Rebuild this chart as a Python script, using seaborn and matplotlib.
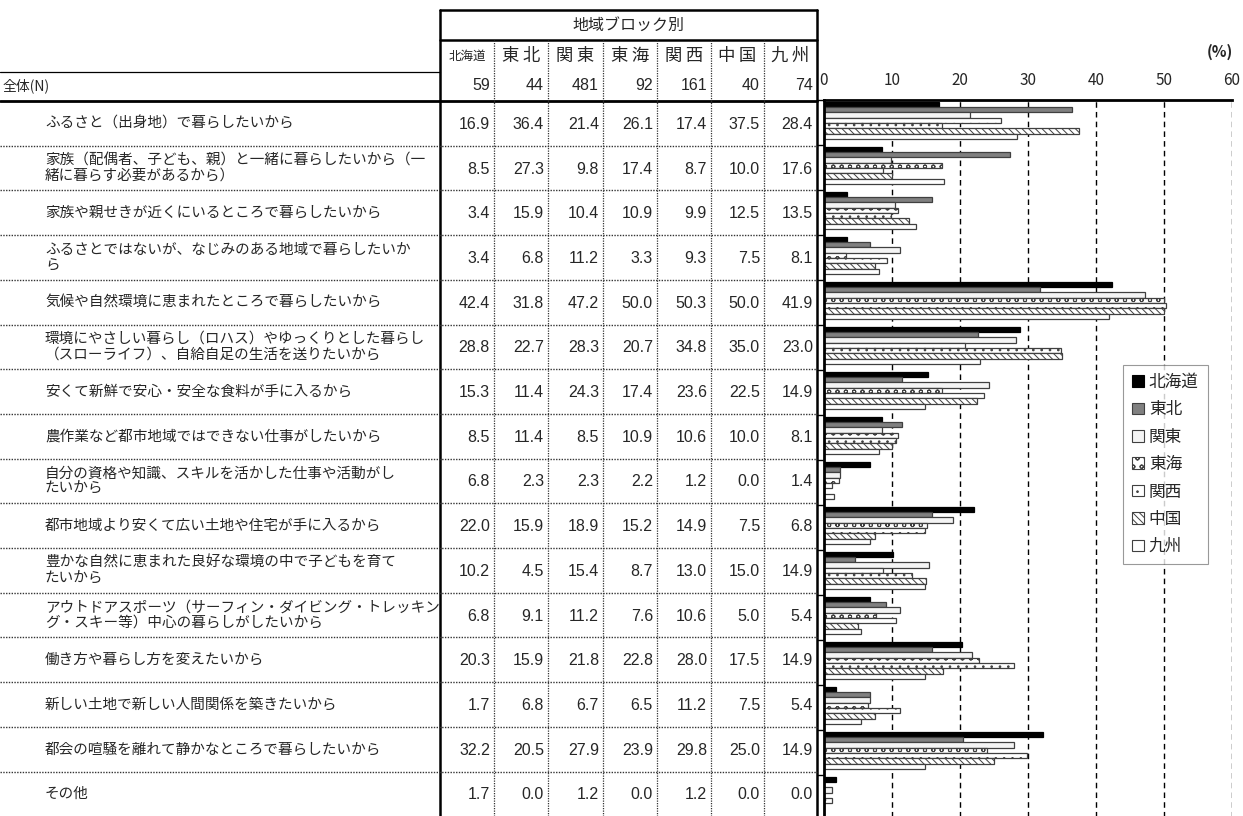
import matplotlib
matplotlib.use("Agg")
import matplotlib.pyplot as plt
import matplotlib.patches as mpatches
import seaborn as sns
import pandas as pd
import numpy as np

regions = ["北海道", "東北", "関東", "東海", "関西", "中国", "九州"]
n_counts = [59, 44, 481, 92, 161, 40, 74]
items = [
    "ふるさと（出身地）で暮らしたいから",
    "家族（配偶者、子ども、親）と一緒に暮らしたいから（一\n緒に暮らす必要があるから）",
    "家族や親せきが近くにいるところで暮らしたいから",
    "ふるさとではないが、なじみのある地域で暮らしたいか\nら",
    "気候や自然環境に恵まれたところで暮らしたいから",
    "環境にやさしい暮らし（ロハス）やゆっくりとした暮らし\n（スローライフ）、自給自足の生活を送りたいから",
    "安くて新鮮で安心・安全な食料が手に入るから",
    "農作業など都市地域ではできない仕事がしたいから",
    "自分の資格や知識、スキルを活かした仕事や活動がし\nたいから",
    "都市地域より安くて広い土地や住宅が手に入るから",
    "豊かな自然に恵まれた良好な環境の中で子どもを育て\nたいから",
    "アウトドアスポーツ（サーフィン・ダイビング・トレッキン\nグ・スキー等）中心の暮らしがしたいから",
    "働き方や暮らし方を変えたいから",
    "新しい土地で新しい人間関係を築きたいから",
    "都会の喧騒を離れて静かなところで暮らしたいから",
    "その他",
]
hokkaido = [16.9, 8.5, 3.4, 3.4, 42.4, 28.8, 15.3, 8.5, 6.8, 22.0, 10.2, 6.8, 20.3, 1.7, 32.2, 1.7]
tohoku = [36.4, 27.3, 15.9, 6.8, 31.8, 22.7, 11.4, 11.4, 2.3, 15.9, 4.5, 9.1, 15.9, 6.8, 20.5, 0.0]
kanto = [21.4, 9.8, 10.4, 11.2, 47.2, 28.3, 24.3, 8.5, 2.3, 18.9, 15.4, 11.2, 21.8, 6.7, 27.9, 1.2]
tokai = [26.1, 17.4, 10.9, 3.3, 50.0, 20.7, 17.4, 10.9, 2.2, 15.2, 8.7, 7.6, 22.8, 6.5, 23.9, 0.0]
kansai = [17.4, 8.7, 9.9, 9.3, 50.3, 34.8, 23.6, 10.6, 1.2, 14.9, 13.0, 10.6, 28.0, 11.2, 29.8, 1.2]
chugoku = [37.5, 10.0, 12.5, 7.5, 50.0, 35.0, 22.5, 10.0, 0.0, 7.5, 15.0, 5.0, 17.5, 7.5, 25.0, 0.0]
kyushu = [28.4, 17.6, 13.5, 8.1, 41.9, 23.0, 14.9, 8.1, 1.4, 6.8, 14.9, 5.4, 14.9, 5.4, 14.9, 0.0]
series = [hokkaido, tohoku, kanto, tokai, kansai, chugoku, kyushu]
xticks = [0, 10, 20, 30, 40, 50, 60]

sns.set_style("white")
plt.rcParams["font.family"] = ["Noto Sans CJK JP", "DejaVu Sans"]
plt.rcParams["hatch.linewidth"] = 0.7
NUMFONT = ["Liberation Sans", "DejaVu Sans"]

W, H = 1243, 816
fig = plt.figure(figsize=(W / 100, H / 100), dpi=100)

# ---------- table (pixel coordinates) ----------
tab = fig.add_axes([0, 0, 1, 1])
tab.set_xlim(0, W)
tab.set_ylim(H, 0)
tab.axis("off")

col_edges = [440, 494, 548, 603, 657, 711, 764, 817]
row_top = 101
row_h = 44.7

tab.plot([440, 817], [10, 10], color="black", lw=1.8)
tab.plot([440, 817], [40, 40], color="black", lw=1.8)
tab.plot([0, 440], [72, 72], color="black", lw=0.9)
tab.plot([0, 817], [row_top, row_top], color="black", lw=2.0)
tab.plot([440, 440], [10, H], color="black", lw=1.8)
tab.plot([817, 817], [10, H], color="black", lw=1.8)
for x in col_edges[1:-1]:
    tab.plot([x, x], [40, H], color="#333333", lw=0.9, ls=(0, (1, 1)))
for i in range(1, len(items)):
    y = row_top + row_h * i
    tab.plot([0, 817], [y, y], color="#333333", lw=1.0, ls=(0, (1, 1)))

tab.text(628, 25, "地域ブロック別", ha="center", va="center", fontsize=11.5)
for j, r in enumerate(regions):
    cx = (col_edges[j] + col_edges[j + 1]) / 2
    if len(r) == 3:
        tab.text(cx, 56, r, ha="center", va="center", fontsize=9)
    else:
        tab.text(cx, 56, r[0] + "\u2009" + r[1], ha="center", va="center", fontsize=12.5)
    tab.text(col_edges[j + 1] - 4, 86, str(n_counts[j]), ha="right", va="center",
             fontsize=11.5, family=NUMFONT)

tab.text(3, 86, "全体(N)", ha="left", va="center", fontsize=10)
for i, lab in enumerate(items):
    cy = row_top + row_h * (i + 0.5)
    tab.text(45, cy, lab, ha="left", va="center", fontsize=10.5, linespacing=1.15)
    for j in range(len(regions)):
        tab.text(col_edges[j + 1] - 4, cy + 1, f"{series[j][i]:.1f}", ha="right",
                 va="center", fontsize=11.5, family=NUMFONT)

# ---------- bar chart ----------
rows = []
for j, r in enumerate(regions):
    for i, it in enumerate(items):
        rows.append({"item": it, "region": r, "value": series[j][i]})
df = pd.DataFrame(rows)

ax_left = 824
ax_right = 1232
ax_top = 100
ax_bottom = ax_top + 45 * len(items)
ax = fig.add_axes([ax_left / W, (H - ax_bottom) / H, (ax_right - ax_left) / W,
                   (ax_bottom - ax_top) / H])
ax.patch.set_alpha(0)

face = ["black", "#808080", "#f4f4f4", "white", "white", "white", "white"]
edge = ["black", "#404040", "#404040", "#404040", "#404040", "#404040", "#404040"]
hatches = [None, None, None, "oo", "..", "\\\\\\\\\\", None]

sns.barplot(data=df, y="item", x="value", hue="region", order=items,
            hue_order=regions, orient="h", width=0.83, ax=ax, legend=False,
            palette=dict(zip(regions, face)), saturation=1)
for k, cont in enumerate(ax.containers):
    for bar in cont:
        bar.set_facecolor(face[k])
        bar.set_edgecolor(edge[k])
        bar.set_linewidth(0.9)
        if hatches[k]:
            bar.set_hatch(hatches[k])

ax.set_xlim(0, 60)
ax.set_ylim(len(items) - 0.45, -0.45)
ax.set_xticks(xticks)
ax.xaxis.tick_top()
ax.tick_params(axis="x", length=0, labelsize=11, pad=8)
ax.set_xlabel("")
ax.set_ylabel("")
ax.set_yticks([])
ax.set_yticks(np.arange(len(items) + 1) - 0.45, minor=True)
ax.tick_params(axis="y", which="minor", length=5, width=1, color="black", direction="out", left=True)
for x in xticks[1:]:
    ax.axvline(x, color="black", lw=1.0, ls=(0, (4, 3)), zorder=0)
for s in ["right", "bottom"]:
    ax.spines[s].set_visible(False)
ax.spines["left"].set_linewidth(2)
ax.spines["top"].set_linewidth(2)
ax.spines["left"].set_color("black")
ax.spines["top"].set_color("black")

fig.text(1220 / W, 1 - 52 / H, "(%)", ha="center", va="center", fontsize=11, fontweight="bold")

handles = [mpatches.Patch(facecolor=face[k], edgecolor=edge[k], hatch=hatches[k], lw=0.8)
           for k in range(len(regions))]
leg = fig.legend(handles, regions, loc="upper left",
                 bbox_to_anchor=(1123 / W, 1 - 365 / H), frameon=True, fancybox=False,
                 fontsize=12, handlelength=0.7, handleheight=0.7, handletextpad=0.3,
                 labelspacing=0.62, borderpad=0.55, borderaxespad=0)
leg.get_frame().set_edgecolor("#808080")
leg.get_frame().set_linewidth(0.8)

fig.savefig("out.png", dpi=100)
